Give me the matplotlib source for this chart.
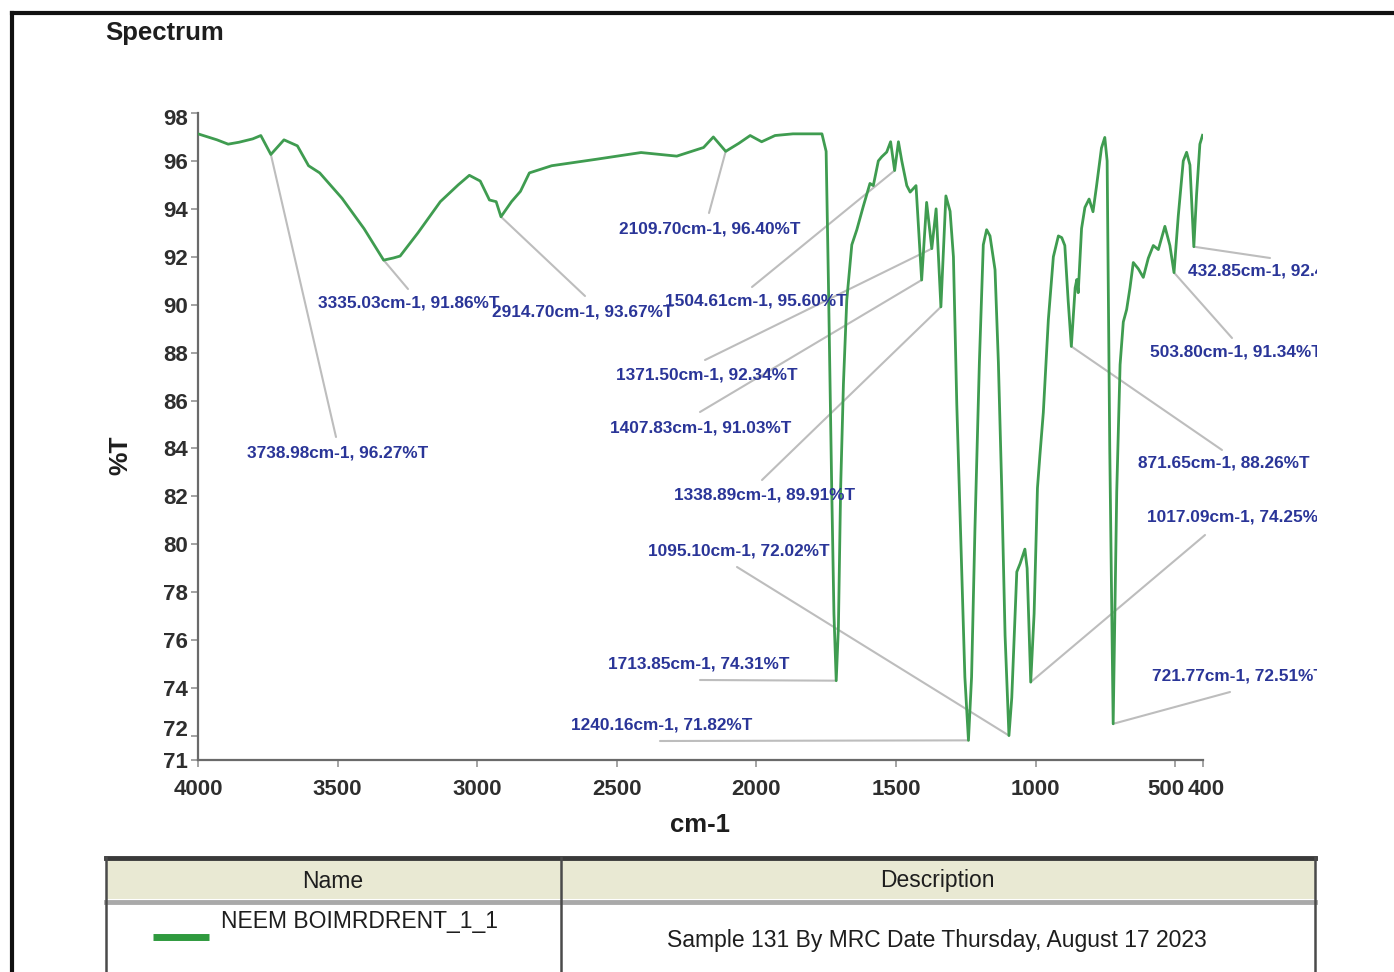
import matplotlib
matplotlib.use("Agg")
import matplotlib.pyplot as plt
from matplotlib import font_manager as fm
from matplotlib.patches import Rectangle
from matplotlib.lines import Line2D
from matplotlib.transforms import Bbox, TransformedBbox, ScaledTranslation

# ---------------- data ----------------
wavenumber = [
    4000, 3932, 3892, 3853, 3804, 3775, 3738.98, 3692, 3644, 3604, 3564, 3484,
    3405, 3335.03, 3300, 3276, 3212, 3132, 3068, 3028, 2989, 2956, 2932, 2914.70,
    2877, 2845, 2813, 2733, 2573, 2413, 2285, 2189, 2154, 2109.70, 2062, 2022,
    1981, 1933, 1869, 1781, 1765, 1750, 1742, 1730, 1722, 1713.85, 1706, 1698,
    1688, 1676, 1658, 1640, 1617, 1593, 1581, 1563, 1551, 1533, 1519, 1504.61,
    1491, 1479, 1461, 1449, 1428, 1407.83, 1390, 1371.50, 1356, 1338.89, 1321,
    1306, 1294, 1282, 1264, 1253, 1240.16, 1229, 1217, 1201, 1187, 1175, 1163,
    1145, 1133, 1121, 1109, 1095.10, 1085, 1073, 1067, 1055, 1038, 1030, 1017.09,
    1005, 993, 984, 972, 954, 936, 918, 906, 895, 883, 871.65, 858, 852, 847,
    835, 823, 808, 794, 781.5, 763.7, 751.8, 743.4, 734, 721.77, 709, 697, 685.5,
    673.5, 661.6, 649.7, 631.8, 613.9, 596, 578, 560, 536.5, 518.6, 503.80, 488.6,
    470.7, 458.7, 446.8, 432.85, 423, 411.2, 401.7,
]
transmittance = [
    97.13, 96.88, 96.70, 96.78, 96.92, 97.06, 96.27, 96.88, 96.63, 95.80, 95.50, 94.44,
    93.17, 91.86, 91.95, 92.03, 93.00, 94.30, 95.00, 95.40, 95.16, 94.37, 94.30, 93.67,
    94.30, 94.73, 95.50, 95.80, 96.07, 96.35, 96.20, 96.56, 97.00, 96.40, 96.74, 97.06,
    96.80, 97.06, 97.13, 97.13, 97.13, 96.40, 91.10, 82.35, 77.10, 74.31, 76.55, 82.35,
    86.70, 90.20, 92.50, 93.13, 94.10, 95.06, 94.97, 96.00, 96.17, 96.37, 96.80, 95.60,
    96.80, 96.00, 94.97, 94.70, 94.97, 91.03, 94.27, 92.34, 94.00, 89.91, 94.54,
    93.90, 92.00, 85.86, 78.85, 74.46, 71.82, 74.46, 80.60, 87.60, 92.50, 93.13, 92.87,
    91.46, 87.60, 82.35, 76.20, 72.02, 73.60, 77.10, 78.85, 79.20, 79.80, 79.00, 74.25,
    77.10, 82.35, 83.75, 85.50, 89.37, 92.00, 92.87, 92.80, 92.47, 90.17, 88.26, 90.70, 91.05, 90.50,
    93.18, 94.06, 94.41, 93.88, 94.94, 96.54, 96.98, 96.00, 83.98, 72.51, 82.20, 87.50, 89.28,
    89.80, 90.70, 91.76, 91.50, 91.14, 91.94, 92.47, 92.30, 93.27, 92.47, 91.34, 93.70,
    96.00, 96.36, 95.83, 92.42, 94.60, 96.70, 97.07,
]

# labelled peaks: (wavenumber, %T)
peak_wn = [3738.98, 3335.03, 2914.70, 2109.70, 1504.61, 1371.50, 1407.83, 1338.89,
           1095.10, 1713.85, 1240.16, 432.85, 503.80, 871.65, 1017.09, 721.77]
peak_t = [96.27, 91.86, 93.67, 96.40, 95.60, 92.34, 91.03, 89.91,
          72.02, 74.31, 71.82, 92.42, 91.34, 88.26, 74.25, 72.51]

x_ticks = [4000, 3500, 3000, 2500, 2000, 1500, 1000, 500, 400]
y_ticks = [71, 72, 74, 76, 78, 80, 82, 84, 86, 88, 90, 92, 94, 96, 98]

sample_name = "NEEM BOIMRDRENT_1_1"
sample_desc = "Sample 131 By MRC Date Thursday, August 17 2023"

# ---------------- fonts ----------------
def pick(*names):
    for n in names:
        try:
            fm.findfont(fm.FontProperties(family=n), fallback_to_default=False)
            return n
        except Exception:
            pass
    return "DejaVu Sans"

NARROW = pick("Liberation Sans Narrow", "Liberation Sans")
plt.rcParams["font.family"] = [NARROW, "DejaVu Sans"]

W, H = 1394, 972
fig = plt.figure(figsize=(W / 100, H / 100), dpi=100)
fig.patch.set_facecolor("white")


def fx(px):
    return px / W


def fy(py):
    return 1 - py / H


# ---------------- spectrum axes ----------------
ax = fig.add_axes([fx(198), fy(760), fx(1203) - fx(198), fy(113) - fy(760)])
ax.plot(wavenumber, transmittance, color="#3f9c50", lw=2.0, solid_joinstyle="round", zorder=3)
ax.set_xlim(4000, 400)
ax.set_ylim(71, 98)
ax.set_xticks(x_ticks)
ax.set_yticks(y_ticks)
ax.set_xticklabels([str(v) for v in x_ticks], fontweight="bold")
ax.set_yticklabels([str(v) for v in y_ticks], fontweight="bold")
for s in ("top", "right"):
    ax.spines[s].set_visible(False)
for s in ("left", "bottom"):
    ax.spines[s].set_color("#6a6a6a")
    ax.spines[s].set_linewidth(1.6)
ax.tick_params(axis="both", direction="out", length=5, width=1.1, color="#8a8a8a",
               labelsize=16, labelcolor="#2e2e2e")
ax.tick_params(axis="x", pad=9)
ax.tick_params(axis="y", pad=2)
ax.set_facecolor("white")

# nudge crowded end labels
for lab in ax.get_xticklabels():
    if lab.get_text() == "500":
        lab.set_transform(lab.get_transform() + ScaledTranslation(-9 / 100, 0, fig.dpi_scale_trans))
    if lab.get_text() == "400":
        lab.set_transform(lab.get_transform() + ScaledTranslation(3 / 100, 0, fig.dpi_scale_trans))
for lab in ax.get_yticklabels():
    if lab.get_text() == "72":
        lab.set_transform(lab.get_transform() + ScaledTranslation(0, 8 / 100, fig.dpi_scale_trans))
    if lab.get_text() == "98":
        lab.set_transform(lab.get_transform() + ScaledTranslation(0, -4 / 100, fig.dpi_scale_trans))

fig.text(fx(700), fy(825), "cm-1", ha="center", va="center", fontsize=18.5,
         fontweight="bold", color="#1e1e1e")
fig.text(fx(120), fy(455), "%T", ha="center", va="center", rotation=90, fontsize=19,
         fontweight="bold", color="#1e1e1e")
fig.text(fx(105), fy(33), "Spectrum", ha="left", va="center", fontsize=18.5,
         fontweight="bold", color="#1e1e1e")

# ---------------- peak annotations ----------------
# text anchor (px), alignment, leader end point (px)
label_pos = [
    (338, 453, "center", 336, 437),
    (409, 303, "center", 408, 289),
    (583, 312, "center", 585, 296),
    (710, 229, "center", 709, 213),
    (756, 301, "center", 752, 287),
    (707, 375, "center", 705, 360),
    (701, 428, "center", 700, 412),
    (764, 495, "center", 762, 480),
    (739, 551, "center", 737, 567),
    (699, 664, "center", 700, 680),
    (662, 725, "center", 660, 741),
    (1188, 271, "left", 1270, 258),
    (1150, 352, "left", 1232, 338),
    (1224, 463, "center", 1222, 450),
    (1147, 517, "left", 1205, 535),
    (1152, 676, "left", 1230, 692),
]
clip = TransformedBbox(Bbox([[0, 0], [13.17, 9.72]]), fig.dpi_scale_trans)
for wn, t, (tx, ty, ha, lx, ly) in zip(peak_wn, peak_t, label_pos):
    ax.annotate("", xy=(wn, t), xycoords="data",
                xytext=(fx(lx), fy(ly)), textcoords="figure fraction",
                arrowprops=dict(arrowstyle="-", color="#bdbdbd", lw=1.5, shrinkA=0, shrinkB=0),
                annotation_clip=False, zorder=2)
    txt = fig.text(fx(tx), fy(ty), f"{wn:.2f}cm-1, {t:.2f}%T", ha=ha, va="center",
                   fontsize=12.4, fontweight="bold", color="#2a3598")
    txt.set_clip_box(clip)
    txt.set_clip_on(True)

# ---------------- sample table ----------------
tl, tr, tt = 106, 1315, 857
fig.add_artist(Rectangle((fx(tl), fy(899)), fx(tr) - fx(tl), fy(860) - fy(899),
                         transform=fig.transFigure, facecolor="#e9e9d3", edgecolor="none"))
fig.add_artist(Line2D([fx(tl), fx(tr)], [fy(858), fy(858)], transform=fig.transFigure,
                      color="#3a3a3a", lw=3.5))
fig.add_artist(Line2D([fx(tl), fx(tr)], [fy(902), fy(902)], transform=fig.transFigure,
                      color="#a9a9a9", lw=3.5))
for xx in (tl, 561, tr):
    fig.add_artist(Line2D([fx(xx), fx(xx)], [fy(857), fy(975)], transform=fig.transFigure,
                          color="#4a4a4a", lw=1.8))
fig.text(fx(333), fy(881), "Name", ha="center", va="center", fontsize=16.5, color="#1e1e1e")
fig.text(fx(937), fy(881), "Description", ha="center", va="center", fontsize=16.5, color="#1e1e1e")
fig.add_artist(Line2D([fx(153), fx(209)], [fy(937), fy(937)], transform=fig.transFigure,
                      color="#2f9a3e", lw=5, solid_capstyle="butt"))
fig.text(fx(221), fy(921), sample_name, ha="left", va="center", fontsize=16.5, color="#1e1e1e")
fig.text(fx(937), fy(940), sample_desc, ha="center", va="center", fontsize=16.5, color="#1e1e1e")

# ---------------- outer frame ----------------
fig.add_artist(Line2D([fx(12), fx(1400)], [fy(13), fy(13)], transform=fig.transFigure,
                      color="#111111", lw=3))
fig.add_artist(Line2D([fx(12), fx(12)], [fy(13), fy(980)], transform=fig.transFigure,
                      color="#111111", lw=3))

fig.savefig("out.png", dpi=100)
